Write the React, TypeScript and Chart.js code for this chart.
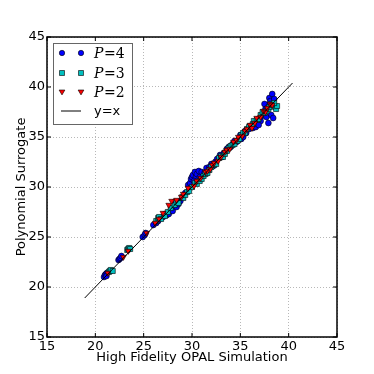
import React, { useEffect, useRef } from 'react';
import { Chart, registerables } from 'chart.js';

Chart.register(...registerables);

const tickValues = [15, 20, 25, 30, 35, 40, 45];

const p4Fidelity = [20.9, 21.0, 21.1, 21.2, 21.15, 22.4, 22.5, 22.6, 22.7, 24.9, 25.1, 25.2, 26.0, 26.3, 26.5, 26.8, 27.0, 27.2, 27.4, 27.6, 27.9, 28.0, 28.4, 28.2, 28.6, 28.8, 29.3, 29.6, 29.8, 29.9, 30.0, 30.1, 30.3, 30.4, 30.5, 30.7, 30.2, 30.8, 31.0, 31.3, 31.5, 31.8, 32.0, 32.2, 32.4, 32.6, 32.9, 33.1, 33.3, 33.6, 33.8, 34.0, 34.2, 34.4, 34.6, 34.8, 35.0, 35.1, 35.3, 35.5, 35.6, 35.9, 36.0, 36.3, 36.5, 36.6, 36.8, 37.0, 37.1, 37.2, 37.4, 37.6, 37.7, 37.8, 37.5, 37.9, 38.0, 38.1, 38.3, 38.5, 38.2, 38.4, 37.9, 36.9];
const p4Surrogate = [21.0, 21.2, 21.3, 21.4, 21.1, 22.7, 22.8, 22.9, 23.1, 25.0, 25.2, 25.4, 26.2, 26.4, 26.6, 26.9, 27.0, 27.3, 27.2, 27.3, 27.8, 27.6, 28.0, 28.5, 28.3, 28.6, 29.4, 30.2, 30.4, 30.8, 31.0, 31.2, 31.5, 31.0, 31.3, 31.6, 30.6, 31.0, 31.5, 31.4, 31.9, 32.0, 32.3, 32.1, 32.5, 32.8, 33.2, 33.0, 33.4, 33.8, 34.0, 34.0, 34.3, 34.6, 34.5, 34.7, 35.2, 34.8, 35.0, 35.6, 35.4, 35.8, 36.1, 35.9, 36.2, 36.0, 36.4, 36.8, 36.6, 37.1, 37.4, 37.8, 37.0, 38.2, 38.3, 38.0, 38.9, 38.6, 39.3, 38.8, 37.2, 36.9, 36.4, 36.2];

const p3Fidelity = [21.4, 21.5, 21.6, 21.8, 23.3, 23.4, 23.5, 23.6, 26.3, 26.5, 26.6, 26.8, 27.2, 27.5, 27.8, 28.2, 28.4, 28.6, 29.0, 29.1, 29.3, 29.5, 29.7, 30.0, 30.3, 30.5, 30.8, 31.0, 31.2, 31.4, 31.6, 31.8, 32.0, 32.3, 32.5, 32.8, 33.0, 33.2, 33.4, 33.6, 33.8, 34.0, 34.2, 34.4, 34.7, 34.9, 35.1, 35.3, 35.5, 35.7, 35.9, 36.1, 36.3, 36.4, 36.7, 36.9, 37.1, 37.3, 37.5, 37.7, 37.9, 38.0, 38.2, 38.4, 38.6, 38.7, 38.8, 38.5];
const p3Surrogate = [21.5, 21.6, 21.7, 21.6, 23.7, 23.8, 23.9, 23.8, 26.6, 26.9, 27.0, 26.8, 27.1, 27.5, 27.9, 28.2, 28.5, 28.4, 29.0, 28.9, 29.2, 29.5, 29.6, 30.0, 30.4, 30.3, 30.6, 30.8, 31.1, 31.3, 31.4, 31.7, 32.0, 32.2, 32.3, 32.9, 33.1, 33.0, 33.3, 33.6, 33.9, 34.1, 34.2, 34.3, 34.6, 34.8, 35.2, 35.4, 35.4, 35.8, 36.0, 36.0, 36.3, 36.6, 36.7, 36.8, 37.2, 37.5, 37.4, 37.6, 37.8, 38.0, 38.3, 38.2, 38.0, 37.8, 38.1, 38.4];

const p2Fidelity = [21.3, 22.9, 23.4, 25.3, 26.2, 26.6, 27.0, 27.6, 27.9, 28.4, 28.9, 29.1, 29.6, 30.2, 30.5, 30.9, 31.4, 31.6, 31.9, 32.1, 32.3, 32.7, 33.0, 33.4, 33.6, 33.9, 34.3, 34.6, 34.8, 35.2, 35.5, 35.7, 36.0, 36.2, 36.5, 36.7, 37.1, 37.4, 37.6, 37.8, 38.1, 38.3];
const p2Surrogate = [21.4, 23.0, 23.6, 25.4, 26.4, 26.8, 27.4, 28.2, 28.6, 28.7, 29.0, 29.3, 29.9, 30.1, 30.6, 30.9, 31.5, 31.6, 31.8, 32.2, 32.4, 32.6, 33.0, 33.5, 33.7, 33.8, 34.5, 34.7, 35.0, 35.1, 35.6, 35.8, 36.2, 35.9, 36.4, 36.9, 37.0, 37.6, 37.5, 37.9, 38.3, 38.2];

const identityX = [18.9, 40.4];
const identityY = [18.9, 40.4];

const legendLabels = ['P=4', 'P=3', 'P=2', 'y=x'];

const toPoints = (xs: number[], ys: number[]) => xs.map((x, i) => ({ x, y: ys[i] }));

const FONT = "'DejaVu Sans', sans-serif";

function drawMarker(ctx: CanvasRenderingContext2D, kind: string, x: number, y: number, fill: string) {
  ctx.save();
  ctx.fillStyle = fill;
  ctx.strokeStyle = '#000';
  ctx.lineWidth = 0.6;
  ctx.beginPath();
  if (kind === 'circle') {
    ctx.arc(x, y, 2.7, 0, Math.PI * 2);
  } else if (kind === 'rect') {
    ctx.rect(x - 2.5, y - 2.5, 5, 5);
  } else {
    ctx.moveTo(x - 2.9, y - 2);
    ctx.lineTo(x + 2.9, y - 2);
    ctx.lineTo(x, y + 2.9);
    ctx.closePath();
  }
  ctx.fill();
  ctx.stroke();
  ctx.restore();
}

const framePlugin = {
  id: 'framePlugin',
  afterDatasetsDraw(chart: any) {
    const { ctx, chartArea: a, scales } = chart;
    ctx.save();
    ctx.strokeStyle = '#000';
    ctx.lineWidth = 1;
    tickValues.forEach((v) => {
      const px = scales.x.getPixelForValue(v);
      const py = scales.y.getPixelForValue(v);
      ctx.beginPath();
      ctx.moveTo(px, a.bottom);
      ctx.lineTo(px, a.bottom - 4);
      ctx.moveTo(px, a.top);
      ctx.lineTo(px, a.top + 4);
      ctx.moveTo(a.left, py);
      ctx.lineTo(a.left + 4, py);
      ctx.moveTo(a.right, py);
      ctx.lineTo(a.right - 4, py);
      ctx.stroke();
    });
    ctx.lineWidth = 1.5;
    ctx.strokeRect(a.left, a.top, a.right - a.left, a.bottom - a.top);

    const lx = a.left + 6;
    const ly = a.top + 6;
    const lw = 79;
    const lh = 81;
    ctx.fillStyle = '#fff';
    ctx.fillRect(lx, ly, lw, lh);
    ctx.strokeStyle = '#666';
    ctx.lineWidth = 1;
    ctx.strokeRect(lx + 0.5, ly + 0.5, lw, lh);
    const rows = [ly + 10, ly + 30, ly + 49, ly + 68];
    const kinds = ['circle', 'rect', 'triangle'];
    const fills = ['#0000ff', '#00bfbf', '#ff0000'];
    for (let i = 0; i < 3; i++) {
      drawMarker(ctx, kinds[i], lx + 9, rows[i], fills[i]);
      drawMarker(ctx, kinds[i], lx + 28, rows[i], fills[i]);
      const label = legendLabels[i];
      ctx.fillStyle = '#000';
      ctx.textBaseline = 'middle';
      ctx.textAlign = 'left';
      ctx.font = "italic 14px 'DejaVu Serif', serif";
      const tx = lx + 41;
      ctx.fillText(label.charAt(0), tx, rows[i] + 1);
      const pw = ctx.measureText(label.charAt(0)).width;
      ctx.font = "14px 'DejaVu Serif', serif";
      ctx.fillText(label.slice(1), tx + pw + 0.5, rows[i] + 1);
    }
    ctx.strokeStyle = '#000';
    ctx.lineWidth = 1;
    ctx.beginPath();
    ctx.moveTo(lx + 8, rows[3]);
    ctx.lineTo(lx + 28, rows[3]);
    ctx.stroke();
    ctx.fillStyle = '#000';
    ctx.font = `13px ${FONT}`;
    ctx.textBaseline = 'middle';
    ctx.fillText(legendLabels[3], lx + 41, rows[3] + 1);

    ctx.font = `13px ${FONT}`;
    ctx.textAlign = 'center';
    ctx.textBaseline = 'middle';
    ctx.fillText('High Fidelity OPAL Simulation', (a.left + a.right) / 2, 358);
    ctx.translate(22, (a.top + a.bottom) / 2);
    ctx.rotate(-Math.PI / 2);
    ctx.fillText('Polynomial Surrogate', 0, 0);
    ctx.restore();
  },
};

export default function App() {
  const ref = useRef<HTMLCanvasElement | null>(null);
  useEffect(() => {
    if (!ref.current) return;
    const gridOpts = { color: '#b8b8b8', lineWidth: 1, drawTicks: false };
    const borderOpts = { display: false, dash: [1, 2] };
    const tickOpts = { stepSize: 5, color: '#000', font: { family: FONT, size: 13 } };
    const chart = new Chart(ref.current, {
      type: 'scatter',
      data: {
        datasets: [
          {
            label: legendLabels[3],
            type: 'line',
            data: toPoints(identityX, identityY),
            borderColor: '#000',
            borderWidth: 1,
            pointRadius: 0,
            showLine: true,
            fill: false,
            order: 0,
          } as any,
          {
            label: legendLabels[2],
            data: toPoints(p2Fidelity, p2Surrogate),
            pointStyle: 'triangle',
            rotation: 180,
            pointRadius: 3.4,
            backgroundColor: '#ff0000',
            borderColor: '#000',
            borderWidth: 0.6,
            order: 1,
          },
          {
            label: legendLabels[1],
            data: toPoints(p3Fidelity, p3Surrogate),
            pointStyle: 'rect',
            pointRadius: 3.6,
            backgroundColor: '#00bfbf',
            borderColor: '#000',
            borderWidth: 0.6,
            order: 2,
          },
          {
            label: legendLabels[0],
            data: toPoints(p4Fidelity, p4Surrogate),
            pointStyle: 'circle',
            pointRadius: 2.9,
            backgroundColor: '#0000ff',
            borderColor: '#000',
            borderWidth: 0.6,
            order: 3,
          },
        ],
      },
      options: {
        animation: false,
        responsive: false,
        maintainAspectRatio: false,
        layout: { padding: { left: 0, top: 37, right: 37, bottom: 0 } },
        plugins: { legend: { display: false }, tooltip: { enabled: false } },
        scales: {
          x: {
            type: 'linear',
            min: 15,
            max: 45,
            ticks: { ...tickOpts, padding: 2 },
            grid: gridOpts,
            border: borderOpts,
            afterFit: (s: any) => { s.height = 37; },
          },
          y: {
            type: 'linear',
            min: 15,
            max: 45,
            ticks: { ...tickOpts, padding: 2 },
            grid: gridOpts,
            border: borderOpts,
            afterFit: (s: any) => { s.width = 47; },
          },
        },
      },
      plugins: [framePlugin],
    });
    return () => chart.destroy();
  }, []);
  return (
    <div style={{ position: 'absolute', left: 0, top: 0, width: 374, height: 374, background: '#fff' }}>
      <canvas ref={ref} width={374} height={374} style={{ width: 374, height: 374, display: 'block' }} />
    </div>
  );
}
